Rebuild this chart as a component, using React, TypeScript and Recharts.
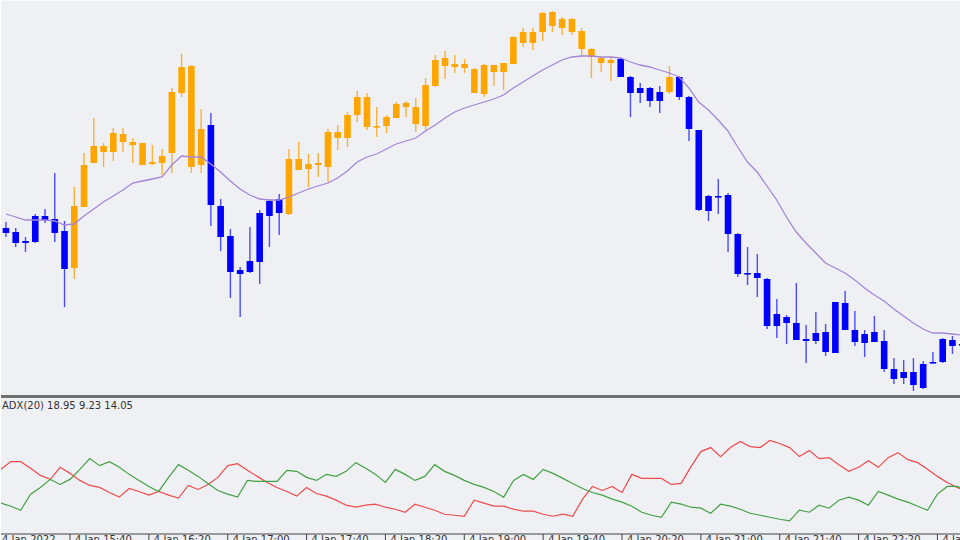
import { ComposedChart, LineChart, Bar, Line, XAxis, YAxis } from "recharts";

// candles (prices)
const opens = [
  1.2172, 1.2168, 1.2159, 1.2184, 1.2184, 1.2181, 1.2169, 1.2132, 1.2193, 1.2237,
  1.2248, 1.2248, 1.2258, 1.2255, 1.2235, 1.2236, 1.2237, 1.2247, 1.2307, 1.2233,
  1.2235, 1.2275, 1.2194, 1.2164, 1.2130, 1.2139, 1.2187, 1.2199, 1.2201, 1.2186,
  1.2230, 1.2231, 1.2235, 1.2233, 1.2262, 1.2262, 1.2285, 1.2273, 1.2273, 1.2274,
  1.2282, 1.2293, 1.2276, 1.2274, 1.2314, 1.2334, 1.2333, 1.2332, 1.2307, 1.2306,
  1.2328, 1.2328, 1.2336, 1.2357, 1.2357, 1.2368, 1.2374, 1.2372, 1.2368, 1.2351,
  1.2343, 1.2337, 1.2337, 1.2341, 1.2323, 1.2312, 1.2312, 1.2308, 1.2308, 1.2323,
  1.2303, 1.2270, 1.2204, 1.2204, 1.2205, 1.2166, 1.2127, 1.2127, 1.2121, 1.2086,
  1.2083, 1.2077, 1.2061, 1.2067, 1.2068, 1.2098, 1.2097, 1.2070, 1.2066, 1.2068,
  1.2059, 1.2031, 1.2028, 1.2028, 1.2036, 1.2038, 1.2061, 1.2060, 1.2056,
];
const highs = [
  1.2178, 1.2172, 1.2163, 1.2186, 1.2191, 1.2227, 1.2179, 1.2213, 1.2247, 1.2282,
  1.2257, 1.2272, 1.2272, 1.2262, 1.2257, 1.2255, 1.2251, 1.2312, 1.2346, 1.2335,
  1.2291, 1.2287, 1.2201, 1.2171, 1.2133, 1.2173, 1.2190, 1.2201, 1.2206, 1.2251,
  1.2258, 1.2246, 1.2247, 1.2271, 1.2275, 1.2288, 1.2309, 1.2307, 1.2293, 1.2285,
  1.2298, 1.2299, 1.2302, 1.2322, 1.2345, 1.2349, 1.2345, 1.2341, 1.2332, 1.2336,
  1.2335, 1.2337, 1.2364, 1.2372, 1.2372, 1.2388, 1.2389, 1.2383, 1.2382, 1.2372,
  1.2352, 1.2343, 1.2344, 1.2342, 1.2324, 1.2317, 1.2313, 1.2314, 1.2334, 1.2324,
  1.2304, 1.2270, 1.2205, 1.2221, 1.2207, 1.2167, 1.2153, 1.2146, 1.2122, 1.2101,
  1.2085, 1.2117, 1.2075, 1.2088, 1.2076, 1.2098, 1.2109, 1.2089, 1.2070, 1.2084,
  1.2070, 1.2042, 1.2040, 1.2042, 1.2039, 1.2048, 1.2062, 1.2064, 1.2058,
];
const lows = [
  1.2163, 1.2153, 1.2148, 1.2157, 1.2177, 1.2158, 1.2093, 1.2121, 1.2193, 1.2237,
  1.2233, 1.2239, 1.2248, 1.2237, 1.2235, 1.2235, 1.2225, 1.2227, 1.2303, 1.2227,
  1.2227, 1.2174, 1.2149, 1.2102, 1.2083, 1.2127, 1.2116, 1.2153, 1.2165, 1.2185,
  1.2230, 1.2213, 1.2223, 1.2218, 1.2250, 1.2253, 1.2278, 1.2270, 1.2263, 1.2267,
  1.2282, 1.2283, 1.2268, 1.2270, 1.2313, 1.2321, 1.2327, 1.2327, 1.2307, 1.2303,
  1.2314, 1.2310, 1.2336, 1.2353, 1.2350, 1.2359, 1.2368, 1.2365, 1.2365, 1.2343,
  1.2322, 1.2328, 1.2319, 1.2323, 1.2283, 1.2297, 1.2293, 1.2287, 1.2306, 1.2300,
  1.2259, 1.2189, 1.2179, 1.2186, 1.2148, 1.2123, 1.2115, 1.2103, 1.2071, 1.2062,
  1.2056, 1.2060, 1.2037, 1.2056, 1.2044, 1.2047, 1.2070, 1.2054, 1.2043, 1.2058,
  1.2028, 1.2016, 1.2016, 1.2009, 1.2011, 1.2037, 1.2037, 1.2046, 1.2053,
];
const closes = [
  1.2167, 1.2157, 1.2157, 1.2158, 1.2180, 1.2167, 1.2131, 1.2194, 1.2235, 1.2254,
  1.2254, 1.2267, 1.2266, 1.2258, 1.2257, 1.2238, 1.2244, 1.2308, 1.2333, 1.2334,
  1.2271, 1.2195, 1.2163, 1.2128, 1.2126, 1.2128, 1.2138, 1.2184, 1.2187, 1.2241,
  1.2241, 1.2236, 1.2237, 1.2268, 1.2268, 1.2285, 1.2303, 1.2303, 1.2274, 1.2283,
  1.2296, 1.2297, 1.2293, 1.2315, 1.2340, 1.2342, 1.2336, 1.2336, 1.2331, 1.2335,
  1.2335, 1.2337, 1.2363, 1.2368, 1.2368, 1.2387, 1.2388, 1.2381, 1.2381, 1.2369,
  1.2351, 1.2342, 1.2340, 1.2323, 1.2307, 1.2307, 1.2299, 1.2299, 1.2323, 1.2303,
  1.2271, 1.2190, 1.2189, 1.2203, 1.2166, 1.2126, 1.2126, 1.2122, 1.2074, 1.2074,
  1.2077, 1.2060, 1.2059, 1.2059, 1.2048, 1.2047, 1.2070, 1.2058, 1.2057, 1.2058,
  1.2031, 1.2021, 1.2022, 1.2015, 1.2012, 1.2037, 1.2038, 1.2054, 1.2055,
];
// moving average (purple)
const ma = [
  1.2186, 1.2183, 1.2180, 1.2180, 1.2180, 1.2179, 1.2175, 1.2176, 1.2184, 1.2191,
  1.2198, 1.2204, 1.2210, 1.2217, 1.2219, 1.2221, 1.2223, 1.2235, 1.2244, 1.2243,
  1.2243, 1.2236, 1.2228, 1.2219, 1.2211, 1.2205, 1.2201, 1.2200, 1.2200, 1.2203,
  1.2207, 1.2211, 1.2214, 1.2217, 1.2222, 1.2229, 1.2238, 1.2243, 1.2246, 1.2251,
  1.2256, 1.2259, 1.2262, 1.2269, 1.2275, 1.2282, 1.2288, 1.2292, 1.2295, 1.2298,
  1.2301, 1.2305, 1.2312, 1.2318, 1.2324, 1.2330, 1.2335, 1.2340, 1.2343, 1.2344,
  1.2344, 1.2343, 1.2343, 1.2342, 1.2338, 1.2335, 1.2333, 1.2330, 1.2327, 1.2323,
  1.2312, 1.2298, 1.2290, 1.2280, 1.2269, 1.2253, 1.2238, 1.2228, 1.2214, 1.2200,
  1.2183, 1.2168, 1.2157, 1.2147, 1.2137, 1.2132, 1.2127, 1.2120, 1.2112, 1.2105,
  1.2099, 1.2091, 1.2084, 1.2077, 1.2071, 1.2067, 1.2067, 1.2066, 1.2065,
];
// ADX panel: red and green lines
const minusDi = [
  19.3, 21.6, 21.6, 19.6, 17.5, 16.3, 19.9, 18.1, 16.0, 14.5,
  13.9, 12.4, 11.0, 13.6, 12.7, 11.6, 12.7, 11.6, 10.7, 14.5,
  13.3, 14.8, 16.9, 20.4, 21.0, 19.0, 17.2, 15.4, 13.9, 12.7,
  11.3, 13.9, 12.1, 11.3, 10.1, 8.6, 8.0, 8.6, 8.9, 8.0,
  7.4, 6.5, 8.9, 8.0, 7.1, 5.9, 5.6, 5.3, 10.1, 9.2,
  8.3, 8.3, 7.4, 6.8, 6.8, 5.9, 5.3, 5.9, 5.3, 10.4,
  14.2, 13.0, 14.2, 12.4, 17.8, 16.6, 16.6, 16.6, 14.8, 15.1,
  20.1, 24.6, 25.8, 23.1, 25.8, 27.6, 26.1, 25.8, 27.9, 27.0,
  25.8, 23.1, 24.9, 22.5, 22.8, 20.7, 18.7, 19.9, 21.9, 19.9,
  22.8, 24.3, 22.2, 21.3, 19.3, 17.2, 15.4, 13.9, 12.7,
];
const plusDi = [
  9.2, 8.3, 7.1, 11.9, 13.9, 16.3, 14.8, 16.3, 19.3, 22.5,
  20.4, 21.6, 19.9, 17.8, 16.0, 14.2, 12.7, 16.9, 20.7, 19.0,
  17.2, 15.1, 13.0, 11.9, 11.0, 16.0, 15.7, 15.7, 15.7, 19.0,
  18.7, 16.9, 16.0, 17.8, 17.2, 18.7, 21.3, 19.6, 17.8, 15.4,
  19.3, 17.8, 16.0, 17.2, 20.7, 18.7, 17.5, 16.0, 14.8, 13.9,
  12.7, 11.0, 16.0, 17.8, 16.3, 19.3, 18.1, 16.6, 15.1, 13.6,
  12.4, 11.6, 10.4, 9.5, 8.3, 6.5, 5.6, 5.0, 9.5, 8.9,
  8.0, 7.7, 6.2, 8.9, 8.3, 7.4, 6.2, 5.6, 5.0, 4.4,
  3.9, 7.1, 6.5, 8.6, 7.7, 10.1, 11.0, 10.1, 8.6, 12.7,
  11.6, 10.4, 9.5, 8.3, 7.1, 11.9, 14.2, 14.2, 13.0,
];
const tickIdx = [0, 7, 15, 23, 31, 39, 47, 55, 63, 71, 79, 87, 95];
const tickLabels = [
  "4 Jan 2022", "4 Jan 15:40", "4 Jan 16:20", "4 Jan 17:00", "4 Jan 17:40",
  "4 Jan 18:20", "4 Jan 19:00", "4 Jan 19:40", "4 Jan 20:20", "4 Jan 21:00",
  "4 Jan 21:40", "4 Jan 22:20", "4 Jan 23:00",
];

const data = opens.map((o, i) => ({
  i,
  open: o,
  high: highs[i],
  low: lows[i],
  close: closes[i],
  ma: ma[i],
  plus: plusDi[i],
  minus: minusDi[i],
}));

const BG = "#eff0f4";

function Candle(props: any) {
  const { x, y, width, height, payload } = props;
  if (!payload) return null;
  const { open, high, low, close } = payload;
  const top = Math.min(y, y + height);
  const h = Math.abs(height);
  const span = high - low || 1;
  const py = (v: number) => top + ((high - v) / span) * h;
  const up = close > open;
  const body = up ? "#ffa500" : "#0000ff";
  const wick = up ? "#fbb03b" : "#4a4aff";
  const cx = x + width / 2;
  const bTop = py(Math.max(open, close));
  const bBot = py(Math.min(open, close));
  const bh = Math.max(bBot - bTop, 1.6);
  return (
    <g>
      <line x1={cx} x2={cx} y1={top} y2={top + h} stroke={wick} strokeWidth={1.4} />
      <rect x={cx - 3.3} y={bTop} width={6.6} height={bh} fill={body} />
    </g>
  );
}

function TimeTick(props: any) {
  const { x, payload } = props;
  const k = tickIdx.indexOf(payload.value);
  if (k < 0) return null;
  if (k === 0) {
    return (
      <text x={2} y={145} fontSize={10} fontFamily="DejaVu Sans" fill="#333">
        {tickLabels[0]}
      </text>
    );
  }
  return (
    <g>
      <line x1={x} x2={x} y1={136} y2={143} stroke="#444" strokeWidth={1} />
      <text x={x + 5} y={145} fontSize={10} fontFamily="DejaVu Sans" fill="#333">
        {tickLabels[k]}
      </text>
    </g>
  );
}

export default function App() {
  return (
    <div
      style={{
        position: "absolute",
        left: 0,
        top: 0,
        width: 960,
        height: 540,
        background: BG,
        overflow: "hidden",
      }}
    >
      <div style={{ position: "absolute", left: 0, top: 0 }}>
        <ComposedChart width={967} height={395} data={data} margin={{ top: 0, right: 0, left: 1, bottom: 0 }}>
          <XAxis dataKey="i" hide />
          <YAxis hide domain={[1.2005, 1.24]} />
          <Bar
            dataKey={(d: any) => [d.low, d.high]}
            shape={<Candle />}
            isAnimationActive={false}
          />
          <Line
            type="linear"
            dataKey="ma"
            stroke="#a585d6"
            strokeWidth={1.3}
            dot={false}
            isAnimationActive={false}
          />
        </ComposedChart>
      </div>
      <div style={{ position: "absolute", left: 0, top: 395, width: 960, height: 3, background: "#6f6f6f" }} />
      <div style={{ position: "absolute", left: 0, top: 398 }}>
        <LineChart width={967} height={170} data={data} margin={{ top: 2, right: 0, left: 1, bottom: 0 }}>
          <XAxis
            dataKey="i"
            height={34}
            interval={0}
            tickLine={false}
            axisLine={{ stroke: "#444", strokeWidth: 1 }}
            tick={<TimeTick />}
          />
          <YAxis hide domain={[0, 40]} />
          <Line type="linear" dataKey="minus" stroke="#ee4b4b" strokeWidth={1.2} dot={false} isAnimationActive={false} />
          <Line type="linear" dataKey="plus" stroke="#44a044" strokeWidth={1.2} dot={false} isAnimationActive={false} />
        </LineChart>
      </div>
      <div
        style={{
          position: "absolute",
          left: 2,
          top: 400,
          fontFamily: "DejaVu Sans",
          fontSize: 10,
          lineHeight: "12px",
          color: "#333",
        }}
      >
        ADX(20) 18.95 9.23 14.05
      </div>
      <div style={{ position: "absolute", left: 0, top: 0, width: 1, height: 540, background: "#fff" }} />
      <div style={{ position: "absolute", left: 0, top: 0, width: 960, height: 1, background: "#fafafa" }} />
    </div>
  );
}
